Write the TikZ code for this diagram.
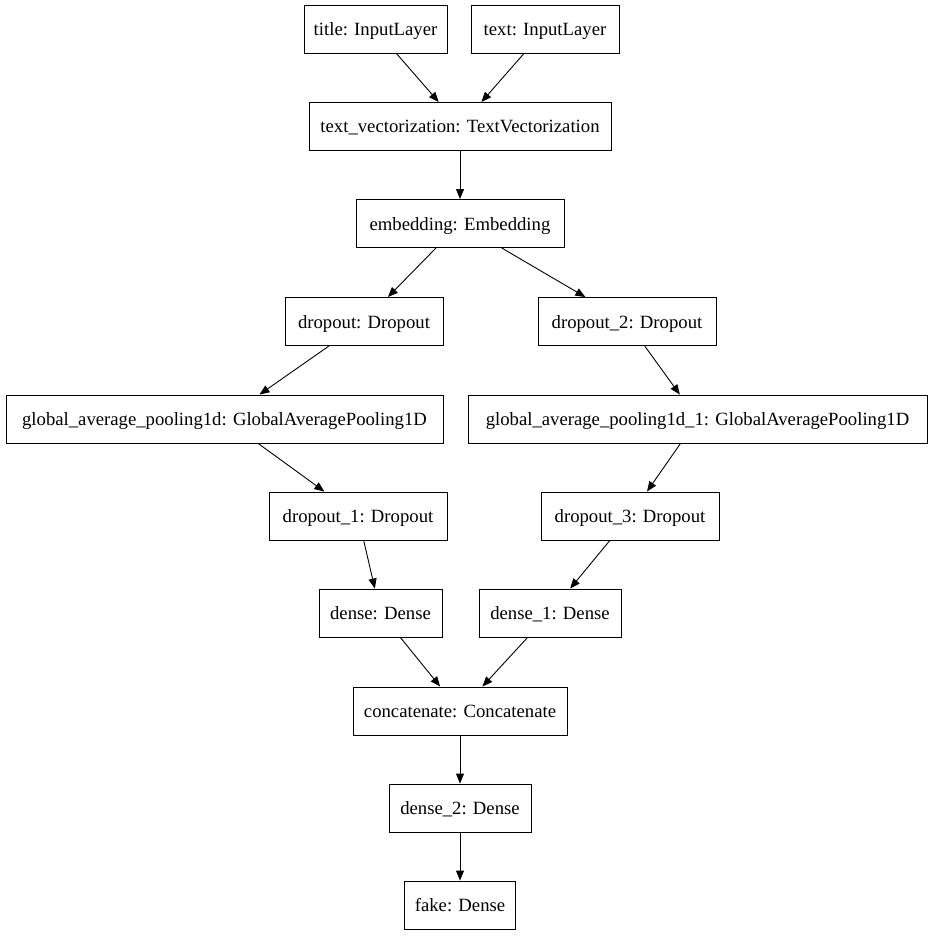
\documentclass[tikz,border=0pt]{standalone}
\usepackage{fontspec}
\setmainfont{Liberation Serif}
\usetikzlibrary{arrows.meta}
\tikzset{
  layer/.style={draw, line width=0.9pt, minimum height=48pt, inner sep=0pt, text height=17pt, text depth=4pt, font=\fontsize{18.7}{20}\selectfont},
  conn/.style={line width=0.9pt, -{Triangle[length=10pt,width=8pt]}}
}
\begin{document}
\begin{tikzpicture}[x=1pt,y=-1pt]
\useasboundingbox (0,0) rectangle (933,936);
\node[layer, minimum width=143pt] (title) at (375.5,29.5) {title: InputLayer};
\node[layer, minimum width=148pt] (text) at (545,29.5) {text: InputLayer};
\node[layer, minimum width=302pt] (tv) at (460,126.5) {text\_vectorization: TextVectorization};
\node[layer, minimum width=208pt] (emb) at (460,223.5) {embedding: Embedding};
\node[layer, minimum width=158pt] (do) at (364,321.5) {dropout: Dropout};
\node[layer, minimum width=178pt] (do2) at (627,321.5) {dropout\_2: Dropout};
\node[layer, minimum width=437pt] (gap) at (224.5,419) {global\_average\_pooling1d: GlobalAveragePooling1D};
\node[layer, minimum width=459pt] (gap1) at (697.5,419) {global\_average\_pooling1d\_1: GlobalAveragePooling1D};
\node[layer, minimum width=178pt] (do1) at (358,516) {dropout\_1: Dropout};
\node[layer, minimum width=178pt] (do3) at (630,516) {dropout\_3: Dropout};
\node[layer, minimum width=123pt] (dense) at (380.5,613) {dense: Dense};
\node[layer, minimum width=142pt] (dense1) at (550,613) {dense\_1: Dense};
\node[layer, minimum width=214pt] (cat) at (460,711) {concatenate: Concatenate};
\node[layer, minimum width=142pt] (dense2) at (460,808) {dense\_2: Dense};
\node[layer, minimum width=111pt] (fake) at (460,905) {fake: Dense};
\draw[conn] (title) -- (tv);
\draw[conn] (text) -- (tv);
\draw[conn] (tv) -- (emb);
\draw[conn] (emb) -- (do);
\draw[conn] (emb) -- (do2);
\draw[conn] (do) -- (gap);
\draw[conn] (do2) -- (gap1);
\draw[conn] (gap) -- (do1);
\draw[conn] (gap1) -- (do3);
\draw[conn] (do1) -- (dense);
\draw[conn] (do3) -- (dense1);
\draw[conn] (dense) -- (cat);
\draw[conn] (dense1) -- (cat);
\draw[conn] (cat) -- (dense2);
\draw[conn] (dense2) -- (fake);
\end{tikzpicture}
\end{document}
